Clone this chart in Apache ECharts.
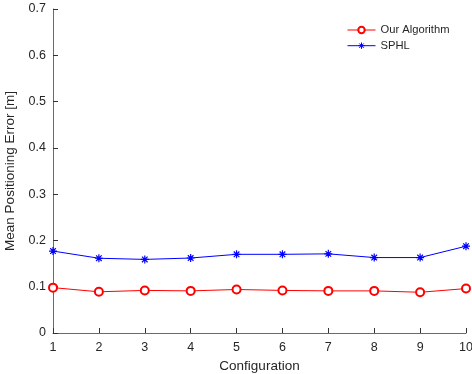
<!DOCTYPE html>
<html>
<head>
<meta charset="utf-8">
<script src="https://cdn.jsdelivr.net/npm/echarts@6/dist/echarts.min.js"></script>
<style>html,body{margin:0;padding:0;background:#fff}#c{width:472px;height:374px}</style>
</head>
<body>
<div id="c"></div>
<script>
const categories = ['1','2','3','4','5','6','7','8','9','10'];
const ourAlgorithm = [0.098, 0.089, 0.092, 0.091, 0.094, 0.092, 0.091, 0.091, 0.088, 0.096];
const sphl = [0.177, 0.1615, 0.159, 0.162, 0.170, 0.170, 0.171, 0.163, 0.163, 0.1875];
const yTicks = [0, 0.1, 0.2, 0.3, 0.4, 0.5, 0.6, 0.7];

const txt = '#262626';
const axisCol = '#6a6a6a';
const font = 'Liberation Sans, Arial, Helvetica, sans-serif';
const star = 'path://M0,5L10,5M5,0L5,10M1.5,1.5L8.5,8.5M8.5,1.5L1.5,8.5';

const chart = echarts.init(document.getElementById('c'), null, {renderer: 'canvas'});
chart.setOption({
  animation: false,
  backgroundColor: '#fff',
  textStyle: {fontFamily: font},
  grid: {left: 53, top: 9, width: 413, height: 324, containLabel: false, outerBoundsMode: 'none'},
  legend: {
    orient: 'vertical', left: 347, top: 24, padding: 0,
    itemWidth: 28, itemHeight: 8, itemGap: 3.7,
    textStyle: {color: txt, fontSize: 11.2, lineHeight: 12, fontFamily: font},
    lineStyle: {width: 1},
    itemStyle: {borderWidth: 1},
    data: ['Our Algorithm', 'SPHL']
  },
  xAxis: {
    type: 'category', data: categories, boundaryGap: false,
    name: 'Configuration', nameLocation: 'middle', nameGap: 26,
    nameTextStyle: {color: txt, fontSize: 13.5, fontFamily: font},
    axisLine: {show: true, lineStyle: {color: axisCol, width: 1}},
    axisTick: {show: true, inside: true, length: 5, interval: 0, lineStyle: {color: '#333', width: 1}},
    axisLabel: {color: txt, fontSize: 12.5, margin: 8, fontFamily: font},
    splitLine: {show: false}
  },
  yAxis: {
    type: 'value', min: 0, max: 0.7, interval: 0.1,
    name: 'Mean Positioning Error [m]', nameLocation: 'middle', nameGap: 28,
    nameTextStyle: {color: txt, fontSize: 13.5, fontFamily: font},
    axisLine: {show: true, lineStyle: {color: axisCol, width: 1}},
    axisTick: {show: true, inside: true, length: 5, lineStyle: {color: '#333', width: 1}},
    axisLabel: {color: txt, fontSize: 12.5, margin: 7, fontFamily: font,
      formatter: v => yTicks.includes(+v.toFixed(1)) ? (v === 0 ? '0' : v.toFixed(1)) : ''},
    splitLine: {show: false}
  },
  series: [
    {
      name: 'Our Algorithm', type: 'line', data: ourAlgorithm,
      symbol: 'emptyCircle', symbolSize: 8, showAllSymbol: true,
      lineStyle: {color: '#ff0000', width: 1},
      itemStyle: {color: '#ff0000', borderColor: '#ff0000', borderWidth: 1}
    },
    {
      name: 'SPHL', type: 'line', data: sphl,
      symbol: star, symbolSize: 8, showAllSymbol: true,
      lineStyle: {color: '#0000ff', width: 1},
      itemStyle: {color: '#0000ff', borderColor: '#0000ff', borderWidth: 1.2}
    }
  ]
});
</script>
</body>
</html>
